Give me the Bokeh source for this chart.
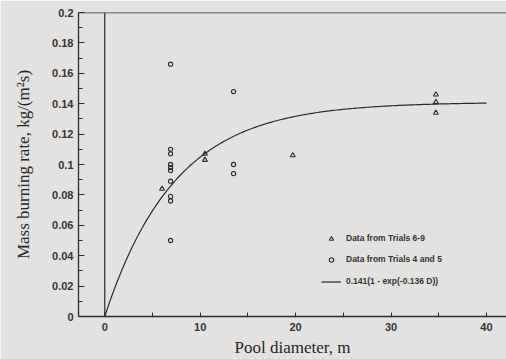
import numpy as np
from bokeh.plotting import figure
from bokeh.models import Range1d, FixedTicker, Span, Legend, LegendItem
from bokeh.embed import file_html
from bokeh.resources import INLINE

# ---- data ----
tri_x = [6.0, 10.5, 10.5, 19.7, 34.7, 34.7, 34.7]
tri_y = [0.084, 0.107, 0.103, 0.106, 0.146, 0.141, 0.134]

circ_x = [6.9, 6.9, 6.9, 6.9, 6.9, 6.9, 6.9, 6.9, 6.9, 6.9, 13.5, 13.5, 13.5]
circ_y = [0.166, 0.110, 0.107, 0.100, 0.098, 0.096, 0.089, 0.079, 0.076, 0.050,
          0.148, 0.100, 0.094]

# fitted curve stated in the legend: 0.141(1 - exp(-0.136 D))
fit_a = 0.141
fit_k = 0.136
fit_d_max = 40

x_ticks = [0, 10, 20, 30, 40]
x_minor = [5, 15, 25, 35]
y_ticks = [0, 0.02, 0.04, 0.06, 0.08, 0.1, 0.12, 0.14, 0.16, 0.18, 0.2]
y_tick_labels = ["0", "0.02", "0.04", "0.06", "0.08", "0.1", "0.12", "0.14", "0.16", "0.18", "0.2"]
y_minor = [0.01, 0.03, 0.05, 0.07, 0.09, 0.11, 0.13, 0.15, 0.17, 0.19]

legend_labels = ["Data from Trials 6-9", "Data from Trials 4 and 5", "0.141(1 - exp(-0.136 D))"]

BG = "#e3e2e0"
INK = "#2b2b2b"

p = figure(width=506, height=359, output_backend="svg", toolbar_location=None,
           x_range=Range1d(-2.75, 42.1), y_range=Range1d(0, 0.2),
           background_fill_color=BG, border_fill_color=BG,
           min_border_left=78, min_border_right=0, min_border_top=12, min_border_bottom=42)
p.outline_line_color = None
p.grid.visible = False

# axes
for ax in (p.xaxis[0], p.yaxis[0]):
    ax.axis_line_color = INK
    ax.axis_line_width = 1.3
    ax.major_tick_line_color = INK
    ax.minor_tick_line_color = INK
    ax.major_tick_out = 0
    ax.minor_tick_out = 0
    ax.major_label_text_font = "Liberation Sans"
    ax.major_label_text_font_style = "bold"
    ax.major_label_text_font_size = "11px"
    ax.major_label_text_color = "#333333"
    ax.axis_label_text_font = "Liberation Serif"
    ax.axis_label_text_font_style = "normal"
    ax.axis_label_text_font_size = "17px"
    ax.axis_label_text_color = "#262626"

p.xaxis.ticker = FixedTicker(ticks=x_ticks, minor_ticks=x_minor)
p.xaxis.major_tick_in = 4
p.xaxis.minor_tick_in = 4
p.xaxis.major_label_standoff = 6
p.xaxis.axis_label = "Pool diameter, m"
p.xaxis.axis_label_standoff = 4

p.yaxis.ticker = FixedTicker(ticks=y_ticks, minor_ticks=y_minor)
p.yaxis.major_label_overrides = {t: l for t, l in zip(y_ticks, y_tick_labels)}
p.yaxis.major_tick_in = 6
p.yaxis.minor_tick_in = 4
p.yaxis.major_label_standoff = 5
p.yaxis.axis_label = "Mass burning rate, kg/(m\u00b2s)"
p.yaxis.axis_label_standoff = 16

# frame lines: top border and zero line
p.add_layout(Span(location=0.2, dimension="width", line_color=INK, line_width=1.3))
p.add_layout(Span(location=0, dimension="height", line_color=INK, line_width=1.2))

# fitted curve
d = np.linspace(0, fit_d_max, 200)
curve = p.line(d, fit_a * (1 - np.exp(-fit_k * d)), line_color=INK, line_width=1.2)

tri = p.scatter(tri_x, tri_y, marker="triangle", size=5, fill_color=None,
                line_color=INK, line_width=1.1)
circ = p.scatter(circ_x, circ_y, marker="circle", size=4.2, fill_color=None,
                 line_color=INK, line_width=1.1)

# one legend per entry so rows can be placed exactly
for lab, rend, ypos in zip(legend_labels, [tri, circ, curve], [68, 47, 25]):
    lg = Legend(items=[LegendItem(label=lab, renderers=[rend])],
                location=(243, ypos), padding=0, margin=0, spacing=0,
                glyph_width=20, glyph_height=11, label_height=20, label_standoff=5,
                background_fill_alpha=0, border_line_color=None,
                label_text_font="Liberation Sans", label_text_font_style="bold",
                label_text_font_size="8.5px", label_text_color="#333333")
    p.add_layout(lg)

open("out.html", "w").write(file_html(p, INLINE))
